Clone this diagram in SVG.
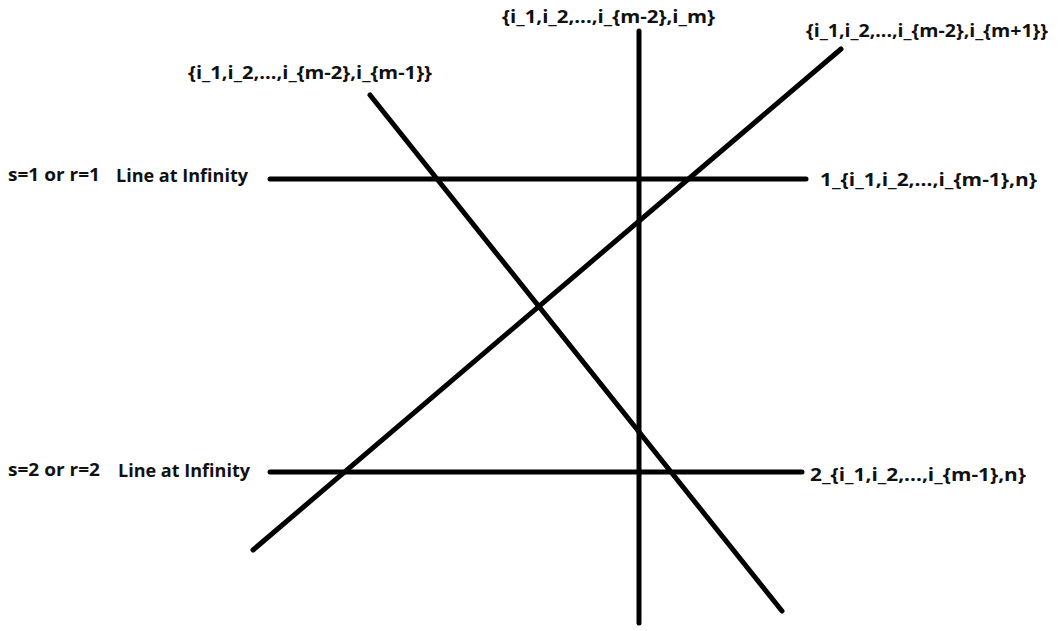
<svg xmlns="http://www.w3.org/2000/svg" width="1063" height="631" viewBox="0 0 1063 631">
<style>
text{font-family:"Open Sans","Liberation Sans",sans-serif;font-weight:bold;font-size:17px;fill:#111}
.ln{stroke:#000;stroke-width:5;stroke-linecap:round;fill:none}
</style>
<rect width="1063" height="631" fill="#fff"/>
<g id="connectors">
<line class="ln" x1="270" y1="179" x2="806" y2="179"/>
<line class="ln" x1="270" y1="472" x2="802" y2="472"/>
<line class="ln" x1="639" y1="31" x2="639" y2="623"/>
<line class="ln" x1="370" y1="95" x2="782" y2="611"/>
<line class="ln" x1="253" y1="550" x2="841" y2="49"/>
</g>
<g id="label-s1"><text x="8" y="181" textLength="92" lengthAdjust="spacingAndGlyphs">s=1 or r=1</text></g>
<g id="label-line1"><text x="116" y="182" textLength="132" lengthAdjust="spacingAndGlyphs">Line at Infinity</text></g>
<g id="label-s2"><text x="8" y="476" textLength="92" lengthAdjust="spacingAndGlyphs">s=2 or r=2</text></g>
<g id="label-line2"><text x="118" y="477" textLength="132" lengthAdjust="spacingAndGlyphs">Line at Infinity</text></g>
<g id="label-top"><text x="502" y="23" textLength="213" lengthAdjust="spacingAndGlyphs">{i_1,i_2,...,i_{m-2},i_m}</text></g>
<g id="label-topright"><text x="806" y="37" textLength="242" lengthAdjust="spacingAndGlyphs">{i_1,i_2,...,i_{m-2},i_{m+1}}</text></g>
<g id="label-topleft"><text x="188" y="79" textLength="244" lengthAdjust="spacingAndGlyphs">{i_1,i_2,...,i_{m-2},i_{m-1}}</text></g>
<g id="label-right1"><text x="820" y="186" textLength="217" lengthAdjust="spacingAndGlyphs">1_{i_1,i_2,...,i_{m-1},n}</text></g>
<g id="label-right2"><text x="810" y="481" textLength="216" lengthAdjust="spacingAndGlyphs">2_{i_1,i_2,...,i_{m-1},n}</text></g>
</svg>
